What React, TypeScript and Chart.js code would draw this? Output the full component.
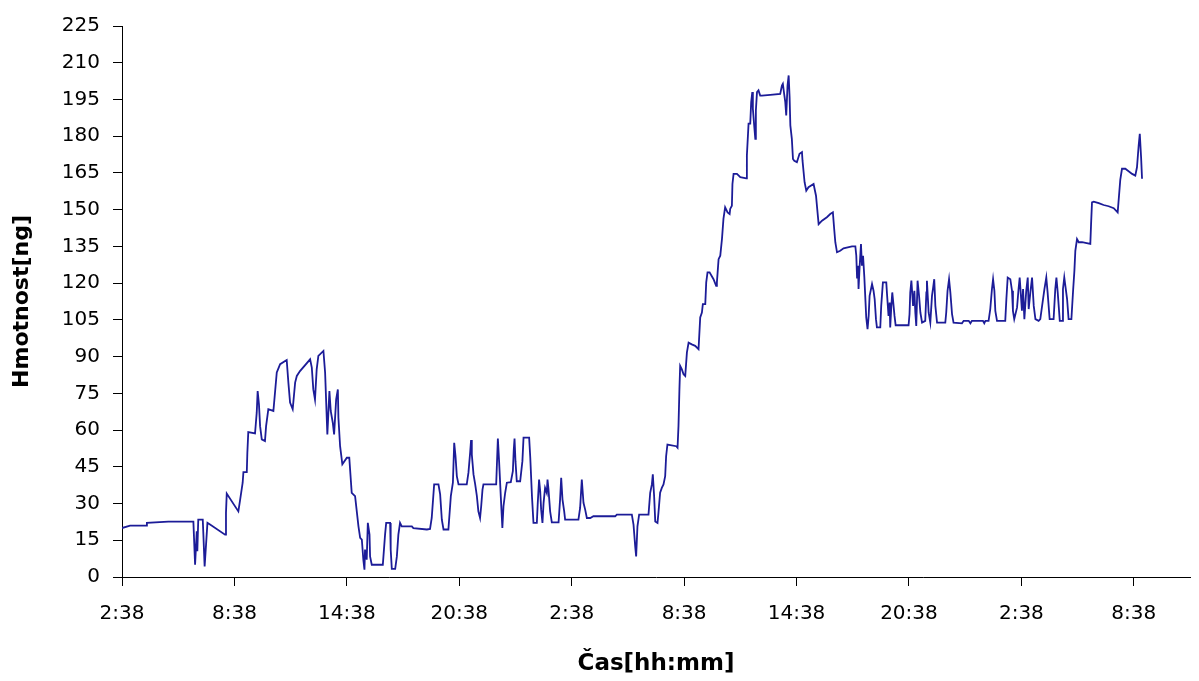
import React, { useEffect, useRef } from 'react';
import { Chart, registerables } from 'chart.js';

Chart.register(...registerables);

// Y axis ticks (ng)
const yTicks = [0, 15, 30, 45, 60, 75, 90, 105, 120, 135, 150, 165, 180, 195, 210, 225];
// X axis: hours since start (2:38), tick every 6 h
const xTickHours = [0, 6, 12, 18, 24, 30, 36, 42, 48, 54];
const xTickLabels = ['2:38', '8:38', '14:38', '20:38', '2:38', '8:38', '14:38', '20:38', '2:38', '8:38'];
const X_MIN_HOURS = 0;
const X_MAX_HOURS = 57;

// Measurements: [hours since 2:38, mass in ng]
const phaseFirstDay: [number, number][] = [
  [0, 20], [0.43, 21], [1.32, 21], [1.33, 22.1], [2.47, 22.6], [3.72, 22.6], [3.81, 22.6], [3.9, 5],
  [3.99, 18.7], [4.02, 10.5], [4.07, 23.4], [4.31, 23.4], [4.34, 18], [4.41, 4.3], [4.52, 17.3],
  [4.56, 22.1], [4.7, 21.4], [5.5, 17.3], [5.55, 26.2], [5.59, 34.1], [6.21, 26.8], [6.3, 31.3],
  [6.44, 38.5], [6.48, 42.8], [6.66, 42.8], [6.69, 50.7], [6.74, 59.2], [7.1, 58.6], [7.19, 67.1],
  [7.24, 75.9], [7.31, 70.5], [7.37, 61.6], [7.46, 56.2], [7.63, 55.5], [7.69, 61.6], [7.81, 68.5],
  [8.08, 67.8], [8.26, 83.5], [8.44, 86.9], [8.79, 88.6], [8.88, 79.4], [8.97, 71.2], [9.11, 68.5],
  [9.24, 79.4], [9.33, 82.1], [9.5, 84.1], [10.04, 88.9], [10.13, 85.5], [10.21, 76.6], [10.3, 72.5],
  [10.39, 84.8], [10.48, 90.3], [10.75, 92.3], [10.84, 83.5], [10.96, 58.2], [11.07, 75.9],
  [11.14, 67.8], [11.25, 63], [11.32, 58.2], [11.43, 72.5], [11.52, 76.6], [11.55, 65], [11.64, 53.4],
  [11.76, 46], [12.0, 48.7], [12.13, 48.7], [12.26, 34.4], [12.44, 33], [12.62, 20.7], [12.71, 16],
];

const phaseFirstNight: [number, number][] = [
  [12.8, 15.3], [12.88, 7.1], [12.94, 3.0], [12.97, 11.2], [13.06, 7.1], [13.12, 22.1], [13.21, 17.3],
  [13.24, 8.4], [13.33, 5.0], [13.92, 5.0], [14.04, 17.3], [14.1, 22.1], [14.31, 22.1], [14.34, 11.2],
  [14.4, 3.3], [14.58, 3.3], [14.67, 8.4], [14.75, 17.3], [14.84, 22.1], [14.93, 20.7], [15.47, 20.7],
  [15.55, 20.0], [16.27, 19.4], [16.44, 19.6], [16.53, 24.1], [16.66, 37.8], [16.89, 37.8],
  [16.98, 33.7], [17.07, 23.4], [17.16, 19.4], [17.42, 19.4], [17.55, 33.0], [17.66, 38.5],
  [17.73, 54.8], [17.8, 49.3], [17.87, 41.2], [17.96, 37.8], [18.4, 37.8], [18.49, 42.6], [18.58, 50.7],
  [18.63, 55.9], [18.67, 50.0], [18.76, 41.9], [18.85, 37.8], [18.94, 33.0], [19.02, 26.8],
  [19.11, 24.1], [19.17, 28.9], [19.24, 35.7], [19.29, 37.8], [19.97, 37.8], [20.06, 56.5],
  [20.13, 46.6], [20.22, 32.3], [20.3, 20.0], [20.36, 28.9], [20.45, 34.4], [20.54, 38.5],
  [20.75, 38.7], [20.86, 43.2], [20.91, 52.1], [20.95, 56.5], [21.0, 47.3], [21.07, 39.1],
  [21.25, 39.1], [21.37, 47.3], [21.43, 56.9], [21.73, 56.9], [21.79, 48.7], [21.88, 33.0],
  [21.96, 22.1], [22.14, 22.1], [22.19, 30.3], [22.26, 39.8], [22.32, 35.0], [22.37, 27.5],
  [22.44, 22.1], [22.5, 30.3], [22.58, 36.4], [22.67, 34.4], [22.71, 39.8], [22.76, 36.0],
  [22.85, 26.8], [22.94, 22.3], [23.3, 22.3], [23.38, 31.6], [23.44, 40.5], [23.51, 31.6],
  [23.6, 26.8], [23.65, 23.4], [24.36, 23.4], [24.45, 28.2], [24.54, 39.8], [24.63, 30.3],
  [24.72, 27.5], [24.81, 24.1], [24.99, 24.1],
];

const phaseSecondDay: [number, number][] = [
  [25.16, 24.8], [26.32, 24.8], [26.41, 25.5], [27.21, 25.5], [27.3, 21.4], [27.39, 12.5], [27.44, 8.4],
  [27.51, 20.7], [27.6, 25.5], [28.1, 25.5], [28.19, 34.4], [28.28, 37.8], [28.33, 41.9], [28.4, 33.0],
  [28.46, 22.7], [28.58, 22.1], [28.63, 26.2], [28.72, 34.4], [28.81, 36.4], [28.9, 37.8], [28.99, 41.2],
  [29.04, 49.3], [29.11, 54.1], [29.58, 53.4], [29.65, 52.8], [29.7, 61.6], [29.75, 76.6], [29.79, 86.2],
  [29.88, 84.8], [29.97, 82.8], [30.06, 82.1], [30.15, 91.7], [30.24, 95.7], [30.41, 95.0],
  [30.59, 94.4], [30.77, 93.0], [30.86, 106.0], [30.95, 108.0], [31.0, 111.4], [31.13, 111.4],
  [31.18, 120.3], [31.25, 124.4], [31.36, 124.4], [31.57, 121.6], [31.71, 118.9], [31.75, 120.3],
  [31.84, 129.8], [31.93, 131.2], [32.02, 138.0], [32.1, 146.2], [32.19, 151.0], [32.32, 148.9],
  [32.43, 148.2], [32.46, 150.3], [32.55, 151.6], [32.58, 160.5], [32.64, 164.6], [32.82, 164.6],
  [33.0, 163.3], [33.32, 162.8], [33.35, 172.1], [33.44, 185.1], [33.53, 185.1], [33.58, 193.9],
  [33.64, 198.0], [33.67, 191.2], [33.74, 184.4], [33.8, 178.9], [33.83, 190.5], [33.89, 198.0],
  [33.97, 198.7], [34.06, 196.6], [34.15, 196.6], [34.6, 196.9], [35.13, 197.3], [35.22, 200.7],
  [35.27, 201.4], [35.34, 197.3], [35.4, 193.9], [35.45, 188.5], [35.52, 200.7], [35.58, 204.8],
  [35.63, 196.0], [35.67, 184.4], [35.75, 178.9], [35.81, 170.7], [35.88, 170.0], [36.02, 169.4],
  [36.16, 172.8], [36.29, 173.5], [36.32, 170.0], [36.43, 161.2], [36.52, 157.8], [36.64, 159.2],
  [36.91, 160.5], [37.04, 155.7], [37.13, 148.2], [37.18, 144.1], [37.36, 145.5], [37.62, 146.9],
  [37.8, 148.2], [37.94, 148.9], [38.01, 142.1], [38.07, 136.7], [38.16, 132.6], [38.33, 133.2],
];

const phaseSecondNight: [number, number][] = [
  [38.51, 134.2], [38.96, 135.0], [39.14, 135.0], [39.19, 131.2], [39.23, 122.3], [39.28, 127.1],
  [39.31, 117.6], [39.37, 127.1], [39.44, 136.0], [39.49, 127.1], [39.55, 131.2], [39.62, 122.3],
  [39.67, 114.2], [39.72, 106.0], [39.79, 101.2], [39.85, 106.6], [39.9, 114.8], [40.03, 119.6],
  [40.11, 116.9], [40.17, 113.5], [40.24, 105.3], [40.29, 101.9], [40.47, 101.9], [40.52, 110.7],
  [40.61, 120.3], [40.79, 120.3], [40.83, 115.5], [40.91, 106.6], [40.97, 112.1], [41.0, 101.9],
  [41.06, 110.7], [41.11, 116.2], [41.18, 110.7], [41.23, 106.6], [41.29, 102.8], [41.98, 102.8],
  [42.03, 107.3], [42.07, 116.2], [42.13, 121.0], [42.22, 110.7], [42.29, 116.9], [42.34, 108.0],
  [42.39, 102.5], [42.46, 121.0], [42.54, 114.8], [42.61, 108.0], [42.7, 103.9], [42.87, 104.6],
  [42.93, 116.2], [42.96, 121.0], [43.05, 108.0], [43.14, 103.9], [43.23, 114.8], [43.28, 117.6],
  [43.35, 121.6], [43.41, 110.7], [43.5, 103.9], [43.94, 103.9], [43.99, 108.0], [44.06, 116.9],
  [44.14, 121.6], [44.21, 116.2], [44.3, 107.3], [44.38, 103.9], [44.83, 103.6], [44.92, 104.6],
  [45.19, 104.6], [45.28, 103.6], [45.36, 104.6], [45.95, 104.6], [46.02, 103.6], [46.08, 104.6],
  [46.25, 104.6], [46.34, 109.4], [46.43, 117.6], [46.49, 121.6], [46.56, 116.9], [46.61, 108.7],
  [46.7, 104.6], [47.14, 104.6], [47.2, 113.5], [47.27, 122.3], [47.41, 121.6], [47.5, 116.9],
  [47.55, 108.7], [47.62, 105.3], [47.77, 110.1], [47.85, 117.6], [47.91, 122.3], [48.03, 108.7],
  [48.09, 117.6], [48.16, 105.3], [48.26, 116.9], [48.34, 122.3], [48.39, 109.4], [48.48, 116.2],
  [48.57, 122.3], [48.66, 110.7], [48.75, 105.3], [48.92, 104.6], [49.01, 105.3], [49.23, 117.6],
  [49.33, 122.3], [49.4, 116.2], [49.51, 105.3], [49.72, 105.3], [49.81, 117.6], [49.87, 122.3],
  [49.94, 116.2], [50.05, 104.6], [50.17, 104.6], [50.22, 117.6], [50.29, 122.3], [50.44, 113.5],
  [50.52, 105.3], [50.67, 105.3],
];

const phaseThirdDay: [number, number][] = [
  [50.76, 116.9], [50.83, 125.0], [50.88, 133.2], [50.97, 138.0], [51.06, 136.7], [51.24, 136.7],
  [51.68, 136.0], [51.72, 144.1], [51.77, 153.0], [51.86, 153.3], [52.13, 152.7], [52.39, 151.9],
  [52.66, 151.4], [52.93, 150.6], [53.14, 148.9], [53.19, 153.7], [53.28, 162.3], [53.37, 166.7],
  [53.55, 166.7], [53.67, 166.0], [53.91, 164.6], [54.08, 163.9], [54.17, 167.3], [54.26, 176.2],
  [54.32, 181.0], [54.39, 171.4], [54.44, 162.6],
];

const X_TITLE = 'Čas[hh:mm]';
const Y_TITLE = 'Hmotnost[ng]';

export default function App() {
  const canvasRef = useRef<HTMLCanvasElement | null>(null);

  useEffect(() => {
    const canvas = canvasRef.current;
    if (!canvas) return;
    const points = [
      ...phaseFirstDay,
      ...phaseFirstNight,
      ...phaseSecondDay,
      ...phaseSecondNight,
      ...phaseThirdDay,
    ].map(([x, y]) => ({ x, y }));

    const tickFont = { family: "'DejaVu Sans', sans-serif", size: 20 };

    const chart = new Chart(canvas, {
      type: 'line',
      data: {
        datasets: [
          {
            data: points,
            borderColor: '#1c1c98',
            borderWidth: 1.8,
            pointRadius: 0,
            tension: 0,
            fill: false,
          },
        ],
      },
      options: {
        animation: false,
        responsive: true,
        maintainAspectRatio: false,
        layout: { padding: { top: 26, right: 9, left: 0, bottom: 0 } },
        plugins: {
          legend: { display: false },
          tooltip: { enabled: false },
        },
        scales: {
          x: {
            type: 'linear',
            min: X_MIN_HOURS,
            max: X_MAX_HOURS,
            afterBuildTicks: (scale: any) => {
              scale.ticks = xTickHours.map((v) => ({ value: v }));
            },
            afterFit: (scale: any) => {
              scale.height = 104;
            },
            ticks: {
              autoSkip: false,
              maxRotation: 0,
              minRotation: 0,
              color: '#000',
              font: tickFont,
              padding: 16,
              callback: (_v: any, i: number) => xTickLabels[i],
            },
            grid: { drawOnChartArea: false, drawTicks: true, tickLength: 9, color: '#000', lineWidth: 1 },
            border: { display: true, color: '#000', width: 1 },
            title: {
              display: true,
              text: X_TITLE,
              color: '#000',
              font: { family: "'DejaVu Sans', sans-serif", size: 23, weight: 'bold' },
              padding: { top: 0, bottom: 3 },
            },
          },
          y: {
            type: 'linear',
            min: 0,
            max: 225,
            afterBuildTicks: (scale: any) => {
              scale.ticks = yTicks.map((v) => ({ value: v }));
            },
            afterFit: (scale: any) => {
              scale.width = 122;
            },
            ticks: {
              color: '#000',
              font: tickFont,
              padding: 13,
              callback: (v: any) => String(v),
            },
            grid: { drawOnChartArea: false, drawTicks: true, tickLength: 9, color: '#000', lineWidth: 1 },
            border: { display: true, color: '#000', width: 1 },
            title: {
              display: true,
              text: Y_TITLE,
              color: '#000',
              font: { family: "'DejaVu Sans', sans-serif", size: 22, weight: 'bold' },
              padding: { top: 9, bottom: 0 },
            },
          },
        },
      } as any,
    });

    return () => {
      chart.destroy();
    };
  }, []);

  return (
    <div
      style={{
        position: 'fixed',
        left: 0,
        top: 0,
        width: 1199,
        height: 681,
        background: '#fff',
      }}
    >
      <canvas ref={canvasRef} />
    </div>
  );
}
